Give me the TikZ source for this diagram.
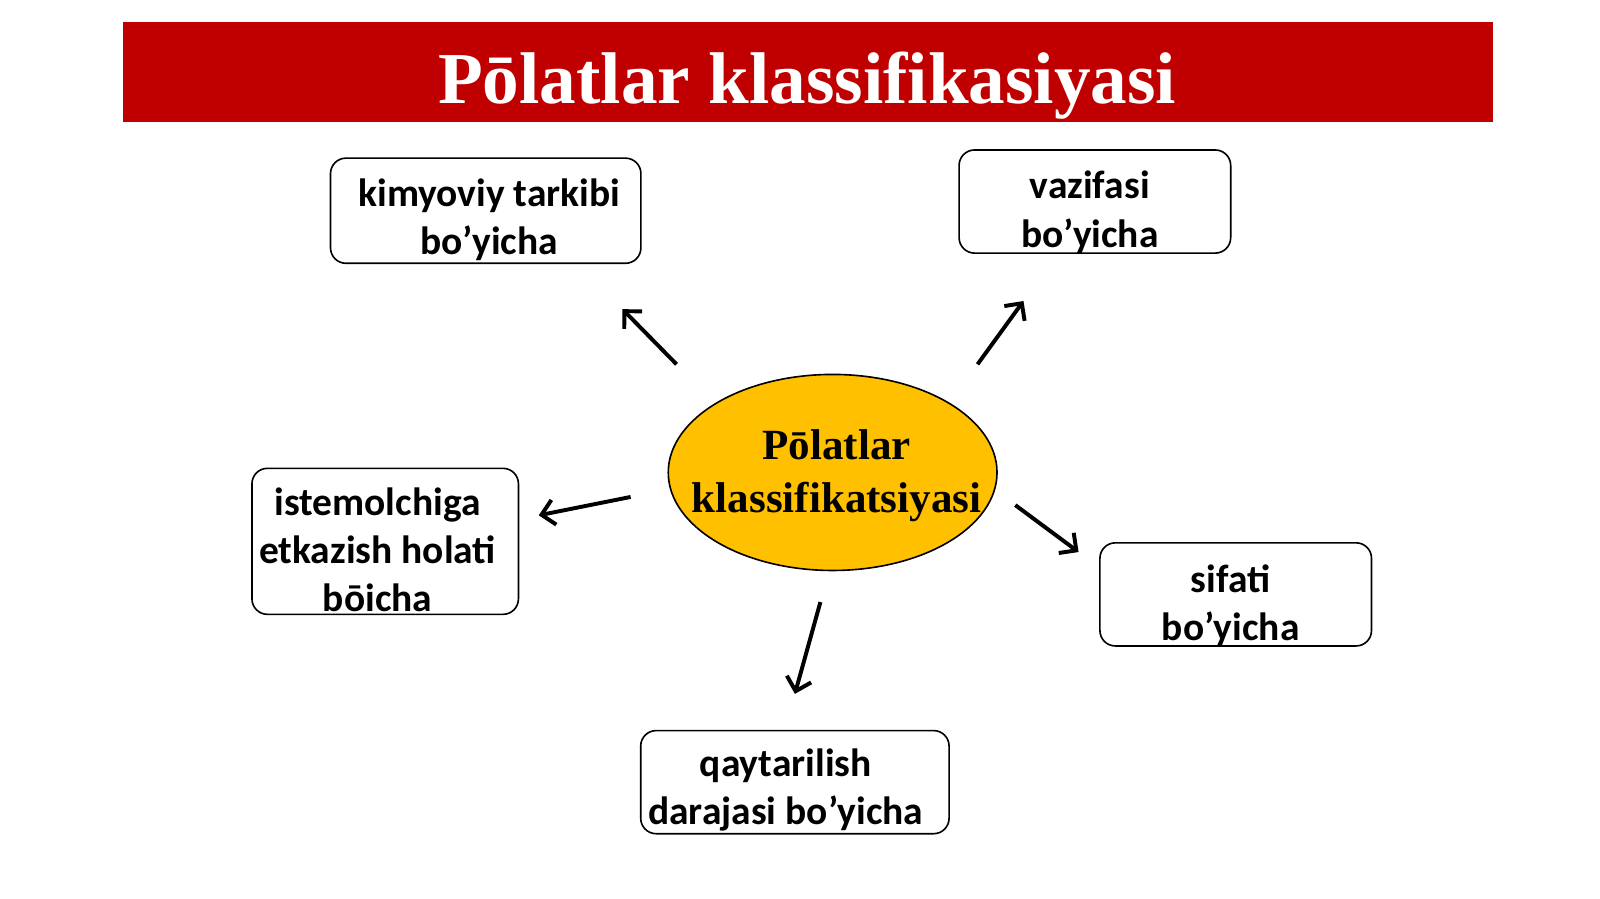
\documentclass[tikz,border=0pt]{standalone}
\usepackage{fontspec}
\setmainfont{Liberation Serif}
\newfontfamily\carlito{Carlito}
\usetikzlibrary{arrows.meta,shapes.geometric}
\definecolor{bannerred}{HTML}{C00000}
\definecolor{oltin}{HTML}{FFC000}
\begin{document}
\begin{tikzpicture}[x=0.01cm,y=-0.01cm,
  turbox/.style={draw, line width=0.45pt, rounded corners=4.3pt, fill=white, inner sep=0pt},
  turmatn/.style={align=center, inner sep=0pt, font=\carlito\bfseries\fontsize{11}{13.4}\selectfont},
  strelka/.style={line width=1.1pt, -{Straight Barb[length=3.5pt,width=7pt]}}]
\useasboundingbox (0,0) rectangle (1568,881);
\node[fill=bannerred, minimum width=13.42cm, minimum height=0.98cm, inner sep=0pt] (banner) at (792,71){};
\node[text=white, font=\bfseries\fontsize{20.4}{24}\selectfont, anchor=base] (title) at (791,101){Pōlatlar klassifikasiyasi};
\node[ellipse, draw, line width=0.45pt, fill=oltin, minimum width=3.22cm, minimum height=1.92cm, inner sep=0pt] (markaz) at (816,463){};
\node[align=center, inner sep=0pt, font=\bfseries\fontsize{12}{14.8}\selectfont] (markazmatn) at (820,466){Pōlatlar\\klassifikatsiyasi};
\node[turbox, minimum width=3.04cm, minimum height=1.03cm] (kim) at (476,206.5){};
\node[turmatn] (kimmatn) at (479.5,215){kimyoviy tarkibi\\bo’yicha};
\node[turbox, minimum width=2.66cm, minimum height=1.01cm] (vaz) at (1073,197.5){};
\node[turmatn] (vazmatn) at (1068,208){vazifasi\\bo’yicha};
\node[turbox, minimum width=2.61cm, minimum height=1.43cm] (ist) at (377.5,530.5){};
\node[turmatn] (istmatn) at (370,539){istemolchiga\\etkazish holati\\bōicha};
\node[turbox, minimum width=2.66cm, minimum height=1.01cm] (sif) at (1211,582.5){};
\node[turmatn] (sifmatn) at (1206,594){sifati\\bo’yicha};
\node[turbox, minimum width=3.02cm, minimum height=1.01cm] (qay) at (779,766.5){};
\node[turmatn] (qaymatn) at (770,774){qaytarilish\\darajasi bo’yicha};
\coordinate (k1) at (663,357);
\coordinate (k2) at (610,303);
\draw[strelka] (k1) -- (k2);
\coordinate (v1) at (958,357);
\coordinate (v2) at (1003,295);
\draw[strelka] (v1) -- (v2);
\coordinate (i1) at (618,487);
\coordinate (i2) at (528,505);
\draw[strelka] (i1) -- (i2);
\coordinate (s1) at (995,495);
\coordinate (s2) at (1057,541);
\draw[strelka] (s1) -- (s2);
\coordinate (q1) at (804,590);
\coordinate (q2) at (779,680);
\draw[strelka] (q1) -- (q2);
\end{tikzpicture}
\end{document}
